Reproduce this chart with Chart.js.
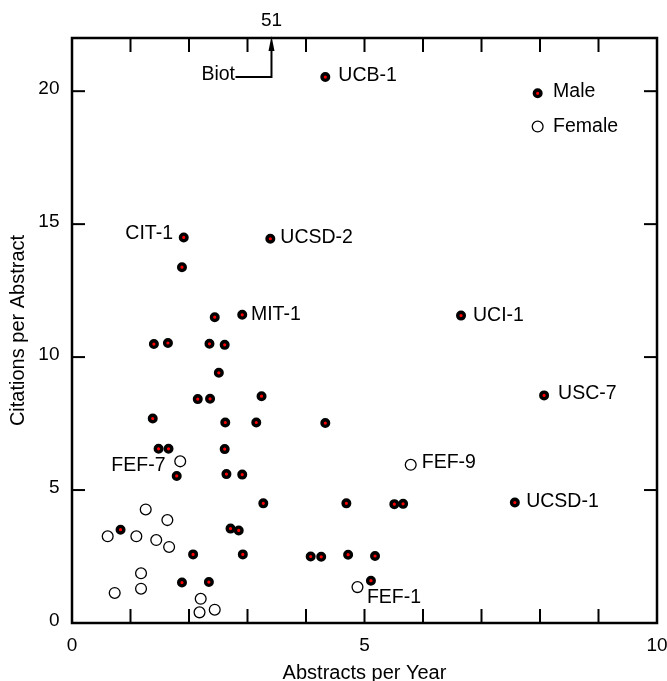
<!DOCTYPE html>
<html>
<head>
<meta charset="utf-8">
<style>
  html, body { margin: 0; padding: 0; background: #ffffff; }
</style>
</head>
<body>
<canvas id="grafico" width="667" height="681"></canvas>
<script src="https://cdn.jsdelivr.net/npm/chart.js@4.4.1/dist/chart.umd.min.js"></script>
<script>
// --- data ---
const maleX = [4.33, 1.91, 1.88, 3.39, 2.44, 2.91, 6.65, 1.40, 1.64, 2.35, 2.61, 2.51, 2.15, 2.36, 3.24,
               1.38, 2.62, 3.15, 4.33, 1.48, 1.65, 2.61, 1.79, 2.64, 2.91, 3.27, 0.83, 2.71, 2.85, 2.07,
               2.92, 4.08, 4.26, 1.88, 2.34, 8.07, 4.69, 5.51, 5.66, 7.57, 4.72, 5.18, 5.11];
const maleY = [20.53, 14.50, 13.38, 14.45, 11.50, 11.59, 11.56, 10.49, 10.53, 10.50, 10.46, 9.41, 8.42, 8.43, 8.53,
               7.69, 7.54, 7.54, 7.52, 6.55, 6.55, 6.54, 5.53, 5.60, 5.58, 4.50, 3.51, 3.55, 3.48, 2.58,
               2.58, 2.50, 2.49, 1.52, 1.54, 8.56, 4.50, 4.47, 4.48, 4.53, 2.57, 2.52, 1.59];
const maleNames = ['UCB-1', 'CIT-1', '', 'UCSD-2', '', 'MIT-1', 'UCI-1', '', '', '', '', '', '', '', '',
                   '', '', '', '', '', '', '', '', '', '', '', '', '', '', '',
                   '', '', '', '', '', 'USC-7', '', '', '', 'UCSD-1', '', '', ''];

const femaleX = [1.85, 1.26, 1.63, 0.61, 1.10, 1.44, 1.66, 1.18, 1.18, 0.73, 2.20, 2.18, 2.44, 5.79, 4.88];
const femaleY = [6.08, 4.27, 3.87, 3.26, 3.26, 3.12, 2.86, 1.87, 1.29, 1.13, 0.91, 0.40, 0.50, 5.95, 1.35];
const femaleNames = ['FEF-7', '', '', '', '', '', '', '', '', '', '', '', '', 'FEF-9', 'FEF-1'];

const xTickLabels = [0, 5, 10];
const yTickLabels = [0, 5, 10, 15, 20];

// Biot is off the scale: 51 citations per abstract
const biotX = 3.41;
const biotY = 20.53;
const biotValue = '51';

const legendLabels = ['Male', 'Female'];

// --- styles ---
const fontFamily = '"Liberation Sans", Arial, Helvetica, sans-serif';
Chart.defaults.font.family = fontFamily;
Chart.defaults.color = '#000000';

const maleStyle = { pointStyle: 'circle', radius: 3.3, borderWidth: 3.4, backgroundColor: '#ff0000', borderColor: '#000000' };
const femaleStyle = { pointStyle: 'circle', radius: 5.4, borderWidth: 1.3, backgroundColor: '#ffffff', borderColor: '#000000' };

// label offsets in pixels from the point (dx, baseline dy)
const labelOffsets = {
    'UCB-1': { dx: 13, dy: 4.4, align: 'left' },
    'CIT-1': { dx: -10.7, dy: 1.6, align: 'right' },
    'UCSD-2': { dx: 10, dy: 4.3, align: 'left' },
    'MIT-1': { dx: 8.7, dy: 5, align: 'left' },
    'UCI-1': { dx: 12, dy: 5, align: 'left' },
    'USC-7': { dx: 14, dy: 3.6, align: 'left' },
    'UCSD-1': { dx: 11.3, dy: 4, align: 'left' },
    'FEF-9': { dx: 11, dy: 3.3, align: 'left' },
    'FEF-1': { dx: 9.4, dy: 16, align: 'left' },
    'FEF-7': { dx: -14.7, dy: 10, align: 'right' }
};

function toPoints(xs, ys) {
    return xs.map((x, i) => ({ x: x, y: ys[i] }));
}

function line(ctx, x1, y1, x2, y2) {
    ctx.beginPath();
    ctx.moveTo(x1, y1);
    ctx.lineTo(x2, y2);
    ctx.stroke();
}

// frame with inward ticks on all four sides
const framePlugin = {
    id: 'frame',
    beforeDatasetsDraw(chart) {
        const ctx = chart.ctx;
        const { left, right, top, bottom } = chart.chartArea;
        const xs = chart.scales.x;
        const ys = chart.scales.y;
        ctx.save();
        ctx.strokeStyle = '#000000';
        ctx.lineWidth = 2;
        xs.ticks.forEach(t => {
            if (t.value <= xs.min || t.value >= xs.max) return;
            const px = xs.getPixelForValue(t.value);
            line(ctx, px, bottom, px, bottom - 14);
            line(ctx, px, top, px, top + 14);
        });
        ys.ticks.forEach(t => {
            if (t.value <= ys.min || t.value >= ys.max) return;
            const py = ys.getPixelForValue(t.value);
            line(ctx, left, py, left + 13, py);
            line(ctx, right, py, right - 13, py);
        });
        ctx.lineWidth = 2.5;
        ctx.strokeRect(left, top, right - left, bottom - top);
        ctx.restore();
    },
    afterDatasetsDraw(chart) {
        const ctx = chart.ctx;
        const xs = chart.scales.x;
        const ys = chart.scales.y;
        ctx.save();
        ctx.fillStyle = '#000000';
        ctx.font = '19.5px ' + fontFamily;
        ctx.textBaseline = 'alphabetic';

        // point labels
        [maleNames, femaleNames].forEach((names, d) => {
            const meta = chart.getDatasetMeta(d);
            names.forEach((name, i) => {
                if (!name) return;
                const pt = meta.data[i];
                const o = labelOffsets[name];
                ctx.textAlign = o.align;
                ctx.fillText(name, pt.x + o.dx, pt.y + o.dy);
            });
        });

        // legend inside the plot
        const lx = xs.getPixelForValue(7.96);
        const ly = [ys.getPixelForValue(19.92), ys.getPixelForValue(18.67)];
        [maleStyle, femaleStyle].forEach((st, i) => {
            ctx.fillStyle = st.backgroundColor;
            ctx.strokeStyle = st.borderColor;
            ctx.lineWidth = st.borderWidth;
            Chart.helpers.drawPoint(ctx, { pointStyle: 'circle', radius: st.radius, borderWidth: st.borderWidth, rotation: 0 }, lx, ly[i]);
            ctx.fillStyle = '#000000';
            ctx.textAlign = 'left';
            ctx.fillText(legendLabels[i], lx + 15.4, ly[i] + (i === 0 ? 4 : 5.6));
        });

        // Biot arrow
        const ax = xs.getPixelForValue(biotX);
        const ay = ys.getPixelForValue(biotY);
        const top = chart.chartArea.top;
        ctx.strokeStyle = '#000000';
        ctx.lineWidth = 2;
        ctx.beginPath();
        ctx.moveTo(ax - 36, ay);
        ctx.lineTo(ax, ay);
        ctx.lineTo(ax, top + 12);
        ctx.stroke();
        ctx.beginPath();
        ctx.moveTo(ax, top - 2);
        ctx.lineTo(ax - 3, top + 13);
        ctx.lineTo(ax + 3, top + 13);
        ctx.closePath();
        ctx.fill();
        ctx.textAlign = 'right';
        ctx.fillText('Biot', ax - 36.5, ay + 2.7);
        ctx.font = '19px ' + fontFamily;
        ctx.textAlign = 'center';
        ctx.fillText(biotValue, ax, top - 12);
        ctx.restore();
    }
};

// --- chart ---
const ctx = document.getElementById('grafico').getContext('2d');

const myChart = new Chart(ctx, {
    type: 'scatter',
    data: {
        datasets: [
            {
                label: legendLabels[0],
                data: toPoints(maleX, maleY),
                pointStyle: maleStyle.pointStyle,
                pointRadius: maleStyle.radius,
                pointBorderWidth: maleStyle.borderWidth,
                pointBackgroundColor: maleStyle.backgroundColor,
                pointBorderColor: maleStyle.borderColor
            },
            {
                label: legendLabels[1],
                data: toPoints(femaleX, femaleY),
                pointStyle: femaleStyle.pointStyle,
                pointRadius: femaleStyle.radius,
                pointBorderWidth: femaleStyle.borderWidth,
                pointBackgroundColor: femaleStyle.backgroundColor,
                pointBorderColor: femaleStyle.borderColor
            }
        ]
    },
    options: {
        responsive: false,
        animation: false,
        events: [],
        layout: { padding: { top: 38, right: 10, bottom: 0, left: 0 } },
        plugins: {
            legend: { display: false },
            tooltip: { enabled: false }
        },
        scales: {
            x: {
                type: 'linear',
                min: 0,
                max: 10,
                afterFit: s => { s.height = 58; s.paddingLeft = 0; s.paddingRight = 0; },
                ticks: {
                    stepSize: 1,
                    autoSkip: false,
                    maxRotation: 0,
                    padding: 11.6,
                    font: { size: 19 },
                    callback: v => xTickLabels.includes(v) ? String(v) : ''
                },
                grid: { display: false, drawTicks: false },
                border: { display: false },
                title: {
                    display: true,
                    text: 'Abstracts per Year',
                    font: { size: 20, lineHeight: 1 },
                    padding: { top: 0, bottom: -2 }
                }
            },
            y: {
                type: 'linear',
                min: 0,
                max: 22,
                afterFit: s => { s.width = 72; s.paddingTop = 0; s.paddingBottom = 0; },
                ticks: {
                    stepSize: 5,
                    includeBounds: false,
                    padding: 12.5,
                    labelOffset: -2,
                    font: { size: 19 },
                    callback: v => yTickLabels.includes(v) ? String(v) : ''
                },
                grid: { display: false, drawTicks: false },
                border: { display: false },
                title: {
                    display: true,
                    text: 'Citations per Abstract',
                    font: { size: 20, lineHeight: 1 },
                    padding: { top: 8, bottom: 0 }
                }
            }
        }
    },
    plugins: [framePlugin]
});
</script>
</body>
</html>
